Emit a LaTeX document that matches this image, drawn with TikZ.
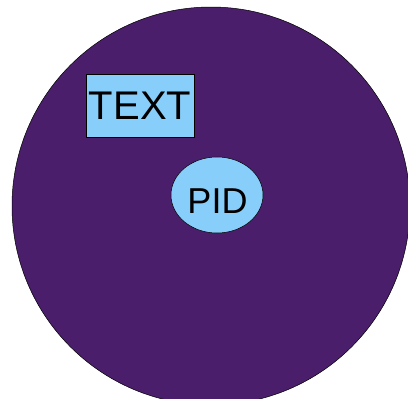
\documentclass[tikz,border=0pt]{standalone}
\usepackage{fontspec}
\setmainfont{Liberation Sans}
\usetikzlibrary{shapes.geometric}
\definecolor{discpurple}{RGB}{74,30,106}
\definecolor{boxblue}{RGB}{135,206,250}
\tikzset{
  disc/.style={circle, draw=black, line width=0.5pt, fill=discpurple, minimum size=398pt, inner sep=0pt},
  tagbox/.style={rectangle, draw=black, line width=0.5pt, fill=boxblue, minimum width=108pt, minimum height=63pt, inner sep=0pt, font=\fontsize{40}{40}\selectfont},
  pidshape/.style={ellipse, draw=black, line width=0.5pt, fill=boxblue, minimum width=92pt, minimum height=76pt, inner sep=0pt},
  pidlabel/.style={inner sep=0pt, font=\fontsize{36}{36}\selectfont}
}
\begin{document}
\begin{tikzpicture}[x=1pt,y=1pt]
  \useasboundingbox (0,0) rectangle (408,-399);
  \clip (0,0) rectangle (408,-399);
  \node[disc] (disc) at (211,-206) {};
  \node[tagbox] (tag) at (140,-105.5) {TEXT};
  \node[pidshape] (pid) at (217,-195) {};
  \node[pidlabel] (pidtext) at (217.5,-201) {PID};
\end{tikzpicture}
\end{document}
